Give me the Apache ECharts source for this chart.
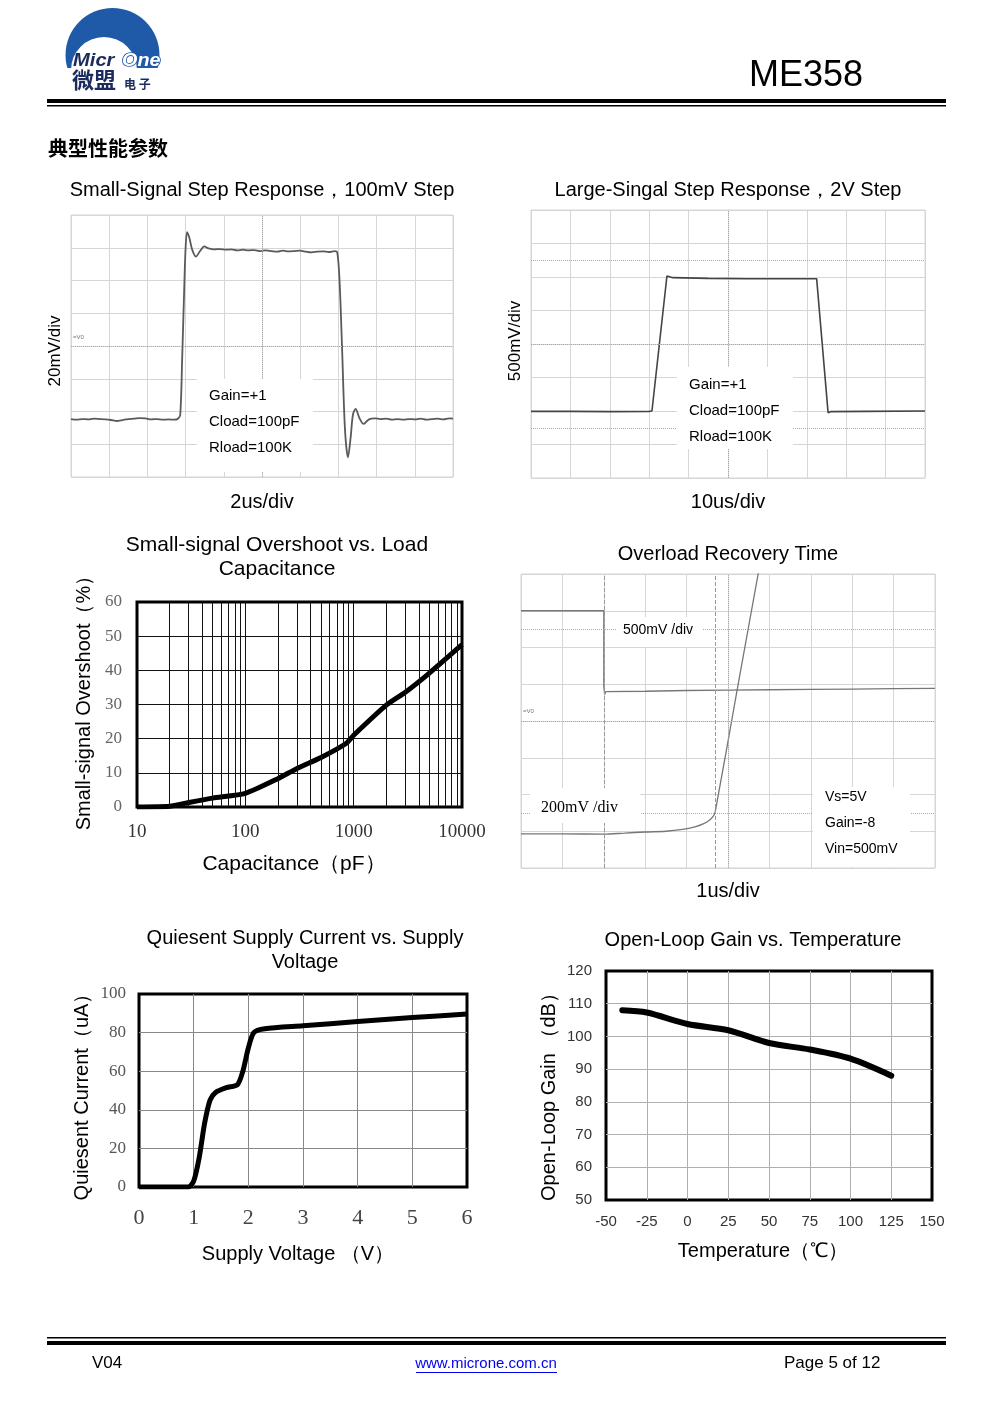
<!DOCTYPE html>
<html><head><meta charset="utf-8">
<script src="https://cdn.jsdelivr.net/npm/echarts@6/dist/echarts.min.js"></script>
<style>html,body{margin:0;padding:0;background:#fff}#c{width:991px;height:1403px}</style>
</head><body><div id="c"></div>
<script>
// ---------- DATA ----------
// Small-signal step (x in divisions 0-10, y in divisions 0-8)
const smallStep = [[0,1.77],[0.15,1.75],[0.3,1.77],[0.45,1.76],[0.6,1.78],[0.75,1.77],[0.9,1.76],[1.05,1.74],[1.2,1.71],[1.35,1.74],[1.5,1.77],[1.65,1.78],[1.8,1.8],[1.95,1.79],[2.1,1.76],[2.25,1.77],[2.4,1.75],[2.55,1.76],[2.7,1.75],[2.8,1.78],[2.86,1.9],
 [2.91,3.6],[2.96,5.6],[3.0,7.0],[3.04,7.48],[3.1,7.3],[3.17,6.95],[3.27,6.73],[3.38,6.9],[3.49,7.04],[3.6,6.98],[3.75,6.95],[3.9,6.96],[4.05,6.94],[4.2,6.95],[4.35,6.92],[4.5,6.94],[4.65,6.92],[4.8,6.93],[4.95,6.9],[5.1,6.92],[5.25,6.9],[5.4,6.88],[5.55,6.91],[5.7,6.89],[5.85,6.9],[6.0,6.91],[6.15,6.88],[6.3,6.86],[6.45,6.88],[6.6,6.89],[6.75,6.87],[6.9,6.9],[6.97,6.86],
 [7.03,6.0],[7.1,3.8],[7.17,1.5],[7.25,0.6],[7.32,1.2],[7.38,1.9],[7.45,2.08],[7.55,1.8],[7.66,1.62],[7.8,1.76],[7.95,1.79],[8.1,1.77],[8.25,1.78],[8.4,1.75],[8.55,1.77],[8.7,1.75],[8.85,1.77],[9.0,1.76],[9.15,1.78],[9.3,1.75],[9.45,1.77],[9.6,1.78],[9.75,1.76],[9.9,1.79],[10,1.78]];
// Large-signal step
const largeStep = [[0,1.99],[1,1.99],[2,1.98],[3.0,1.99],[3.07,2.0],[3.45,6.03],[3.6,5.98],[4.5,5.96],[5.5,5.95],[6.5,5.95],[7.25,5.95],[7.3,5.9],[7.54,1.95],[7.6,1.98],[8.5,1.99],[10,2.0]];
// Overshoot vs load capacitance
const capPF = [10,20,30,50,100,200,300,500,850,1000,2000,3000,5000,10000];
const overshootPct = [0,0.2,1.3,2.6,4,8.3,11.3,14.5,18.6,21,29.8,33.6,39.2,47.5];
const capMinorLines = [20,30,40,50,60,70,80,90,200,300,400,500,600,700,800,900,2000,3000,4000,5000,6000,7000,8000,9000];
// Overload recovery (divisions)
const overloadIn = [[0,7.0],[2.0,7.0],[2.0,4.95],[2.02,4.72],[2.05,4.8],[3,4.81],[4,4.83],[5,4.84],[6,4.85],[7,4.86],[8,4.87],[9,4.88],[10,4.89]];
const overloadOut = [[0,0.93],[1,0.93],[2,0.92],[2.5,0.95],[3,0.98],[3.5,1.0],[3.9,1.05],[4.2,1.12],[4.4,1.2],[4.55,1.3],[4.65,1.42],[4.69,1.52],[5.22,4.84],[5.76,8.2]];
// Quiescent current vs supply voltage
const supplyV = [0,0.5,0.9,1.0,1.1,1.2,1.3,1.4,1.6,1.8,1.9,2.0,2.1,2.3,3,4,5,6];
const quiescentUA = [0,0,0,3,15,33,45,49,51.5,53,60,72,80,82,83.5,85.7,87.8,89.6];
// Open-loop gain vs temperature
const tempC = [-40,-25,0,25,50,75,100,125];
const gainDB = [108,107.3,103.8,101.9,98,96,93.2,88];

// ---------- CHART ----------
const SANS = '"Liberation Sans", Arial, sans-serif';
const SERIF = '"Liberation Serif", "Times New Roman", serif';
const chart = echarts.init(document.getElementById('c'), null, {renderer:'canvas'});
const zip = (a,b) => a.map((v,i)=>[v,b[i]]);

function T(text, x, y, o) {
  o = o || {};
  return {type:'text', x:x, y:y, rotation:o.rot||0, scaleX:o.sx||1, z:100,
    style:{text:text, font:o.font||('20px '+SANS), fill:o.fill||'#000', stroke:o.stroke, lineWidth:o.lw||0,
      align:o.align||'center', textAlign:o.align||'center', verticalAlign:'middle', textVerticalAlign:'middle'}};
}
function R(x,y,w,h,fill,z){ return {type:'rect', z:z||50, shape:{x:x,y:y,width:w,height:h}, style:{fill:fill||'#fff'}}; }

const scopeGrid = '#d6d6d6';
function scopeX(i){ return {gridIndex:i,type:'value',min:0,max:10,interval:1,axisLabel:{show:false},axisTick:{show:false},axisLine:{show:false},splitLine:{show:true,lineStyle:{color:scopeGrid,width:1}}}; }
function scopeY(i){ return {gridIndex:i,type:'value',min:0,max:8,interval:1,axisLabel:{show:false},axisTick:{show:false},axisLine:{show:false},splitLine:{show:true,lineStyle:{color:scopeGrid,width:1}}}; }
const dotted = {type:'dotted', color:'#aaa', width:1};
const dashed = {type:'dashed', color:'#999', width:1};
function ml(data){ return {silent:true, symbol:['none','none'], label:{show:false}, animation:false, data:data}; }

const option = {
  animation:false,
  backgroundColor:'#fff',
  grid:[
    {left:71, top:215, width:382, height:262, show:true, borderColor:scopeGrid, borderWidth:1},
    {left:531, top:210, width:394, height:268, show:true, borderColor:scopeGrid, borderWidth:1},
    {left:137, top:602, width:325, height:205, show:true, borderColor:'#000', borderWidth:3},
    {left:521, top:574, width:414, height:294, show:true, borderColor:scopeGrid, borderWidth:1},
    {left:139, top:994, width:328, height:193, show:true, borderColor:'#000', borderWidth:3},
    {left:606, top:971, width:326, height:229, show:true, borderColor:'#000', borderWidth:3}
  ],
  xAxis:[
    scopeX(0), scopeX(1),
    {gridIndex:2,type:'log',logBase:10,min:10,max:10000,axisLine:{show:false},axisTick:{show:false},
      axisLabel:{margin:16,fontFamily:SERIF,fontSize:19,color:'#333',formatter:function(v){return String(Math.round(v));}},
      splitLine:{show:true,showMinLine:false,showMaxLine:false,lineStyle:{color:'#111',width:1}}},
    scopeX(3),
    {gridIndex:4,type:'value',min:0,max:6,interval:1,axisLine:{show:false},axisTick:{show:false},
      axisLabel:{margin:20,fontFamily:SERIF,fontSize:22,color:'#444'},
      splitLine:{show:true,showMinLine:false,showMaxLine:false,lineStyle:{color:'#888',width:1}}},
    {gridIndex:5,type:'value',min:-50,max:150,interval:25,axisLine:{show:false},axisTick:{show:false},
      axisLabel:{margin:14,fontFamily:SANS,fontSize:15,color:'#333'},
      splitLine:{show:true,showMinLine:false,showMaxLine:false,lineStyle:{color:'#b0b0b0',width:1}}}
  ],
  yAxis:[
    scopeY(0), scopeY(1),
    {gridIndex:2,type:'value',min:0,max:60,interval:10,axisLine:{show:false},axisTick:{show:false},
      axisLabel:{margin:15,fontFamily:SERIF,fontSize:17,color:'#666'},
      splitLine:{show:true,showMinLine:false,showMaxLine:false,lineStyle:{color:'#111',width:1}}},
    scopeY(3),
    {gridIndex:4,type:'value',min:0,max:100,interval:20,axisLine:{show:false},axisTick:{show:false},
      axisLabel:{margin:13,fontFamily:SERIF,fontSize:17,color:'#555'},
      splitLine:{show:true,showMinLine:false,showMaxLine:false,lineStyle:{color:'#888',width:1}}},
    {gridIndex:5,type:'value',min:50,max:120,interval:10,axisLine:{show:false},axisTick:{show:false},
      axisLabel:{margin:14,fontFamily:SANS,fontSize:15,color:'#333'},
      splitLine:{show:true,showMinLine:false,showMaxLine:false,lineStyle:{color:'#b0b0b0',width:1}}}
  ],
  series:[
    {type:'line',xAxisIndex:0,yAxisIndex:0,data:smallStep,showSymbol:false,smooth:0.3,
      lineStyle:{color:'#5a5a5a',width:1.8},markLine:ml([{xAxis:5,lineStyle:dotted},{yAxis:4,lineStyle:dotted}])},
    {type:'line',xAxisIndex:1,yAxisIndex:1,data:largeStep,showSymbol:false,
      lineStyle:{color:'#444',width:1.6},markLine:ml([{xAxis:5,lineStyle:dotted},{yAxis:4,lineStyle:dotted},{yAxis:6.5,lineStyle:dotted},{yAxis:1.5,lineStyle:dotted}])},
    {type:'line',xAxisIndex:2,yAxisIndex:2,data:zip(capPF,overshootPct),showSymbol:false,smooth:0.2,
      lineStyle:{color:'#000',width:5},markLine:ml(capMinorLines.map(v=>({xAxis:v,lineStyle:{color:'#111',width:1,type:'solid'}})))},
    {type:'line',xAxisIndex:3,yAxisIndex:3,data:overloadIn,showSymbol:false,
      lineStyle:{color:'#777',width:1.3},markLine:ml([{xAxis:5,lineStyle:dotted},{yAxis:4,lineStyle:dotted},{yAxis:6.5,lineStyle:dotted},{yAxis:1.5,lineStyle:dotted},{xAxis:2,lineStyle:dashed},{xAxis:4.69,lineStyle:dashed}])},
    {type:'line',xAxisIndex:3,yAxisIndex:3,data:overloadOut,showSymbol:false,smooth:0.3,
      lineStyle:{color:'#777',width:1.3}},
    {type:'line',xAxisIndex:4,yAxisIndex:4,data:zip(supplyV,quiescentUA),showSymbol:false,smooth:0.25,
      lineStyle:{color:'#000',width:5}},
    {type:'line',xAxisIndex:5,yAxisIndex:5,data:zip(tempC,gainDB),showSymbol:false,smooth:0.3,
      lineStyle:{color:'#000',width:6,cap:'round'}}
  ],
  graphic:{elements:[
    // logo
    {type:'circle', z:20, shape:{cx:112.5,cy:55,r:47}, style:{fill:'#1f5aa8'}},
    {type:'circle', z:21, shape:{cx:104,cy:70,r:33}, style:{fill:'#fff'}},
    R(58,68,114,36,'#fff',22),
    T('Micr', 73, 61, {font:'italic bold 18px '+SANS, fill:'#1c2b5e', align:'left', sx:1.12}),
    T('One', 122, 61, {font:'italic bold 18px '+SANS, fill:'#fff', stroke:'#1f5aa8', lw:1.6, align:'left', sx:1.1}),
    T('微盟', 72, 80, {font:'bold 22px "Noto Sans CJK SC", sans-serif', fill:'#1c2b5e', align:'left'}),
    T('电 子', 124, 84, {font:'bold 12px "Noto Sans CJK SC", sans-serif', fill:'#1c2b5e', align:'left'}),
    // header
    T('ME358', 806, 76, {font:'36px '+SANS}),
    R(47,99,899,4,'#000',60), R(47,105,899,1.5,'#000',60),
    T('典型性能参数', 48, 148, {font:'bold 20px "Noto Sans CJK SC", sans-serif', align:'left'}),
    // chart 1
    T('Small-Signal Step Response，100mV Step', 262, 190),
    T('20mV/div', 55, 351, {font:'17px '+SANS, rot:Math.PI/2}),
    T('2us/div', 262, 502),
    R(197,379,116,93),
    T('Gain=+1', 209, 396, {font:'15px '+SANS, align:'left'}),
    T('Cload=100pF', 209, 422, {font:'15px '+SANS, align:'left'}),
    T('Rload=100K', 209, 448, {font:'15px '+SANS, align:'left'}),
    T('=V0', 73, 337, {font:'6px '+SANS, fill:'#777', align:'left'}),
    // chart 2
    T('Large-Singal Step Response，2V Step', 728, 190),
    T('500mV/div', 515, 341, {font:'17px '+SANS, rot:Math.PI/2}),
    T('10us/div', 728, 502),
    R(677,367,116,82),
    T('Gain=+1', 689, 385, {font:'15px '+SANS, align:'left'}),
    T('Cload=100pF', 689, 411, {font:'15px '+SANS, align:'left'}),
    T('Rload=100K', 689, 437, {font:'15px '+SANS, align:'left'}),
    // chart 3
    T('Small-signal Overshoot vs. Load', 277, 545, {font:'21px '+SANS}),
    T('Capacitance', 277, 569, {font:'21px '+SANS}),
    T('Small-signal Overshoot（%）', 84, 698, {rot:Math.PI/2}),
    T('Capacitance（pF）', 294, 864, {font:'21px '+SANS}),
    // chart 4
    T('Overload Recovery Time', 728, 554),
    R(617,617,86,30),
    T('500mV /div', 623, 630, {font:'14px '+SANS, align:'left'}),
    R(530,788,110,35),
    T('200mV /div', 541, 808, {font:'16px '+SERIF, align:'left'}),
    R(813,787,97,80),
    T('Vs=5V', 825, 797, {font:'14px '+SANS, align:'left'}),
    T('Gain=-8', 825, 823, {font:'14px '+SANS, align:'left'}),
    T('Vin=500mV', 825, 849, {font:'14px '+SANS, align:'left'}),
    T('=V0', 523, 711, {font:'6px '+SANS, fill:'#777', align:'left'}),
    T('1us/div', 728, 891),
    // chart 5
    T('Quiesent Supply Current vs. Supply', 305, 938),
    T('Voltage', 305, 962),
    T('Quiesent Current（uA）', 82, 1092, {rot:Math.PI/2}),
    T('Supply Voltage （V）', 298, 1254),
    // chart 6
    T('Open-Loop Gain vs. Temperature', 753, 940),
    T('Open-Loop Gain （dB）', 549, 1092, {rot:Math.PI/2}),
    T('Temperature（℃）', 763, 1251),
    // footer
    R(47,1337,899,1.5,'#000',60), R(47,1341,899,4,'#000',60),
    T('V04', 92, 1363, {font:'17px '+SANS, align:'left'}),
    T('www.microne.com.cn', 486, 1364, {font:'15px '+SANS, fill:'#0000ee'}),
    R(416,1372,141,1,'#0000ee',60),
    T('Page 5 of 12', 784, 1363, {font:'17px '+SANS, align:'left'})
  ]}
};
chart.setOption(option);
</script></body></html>
